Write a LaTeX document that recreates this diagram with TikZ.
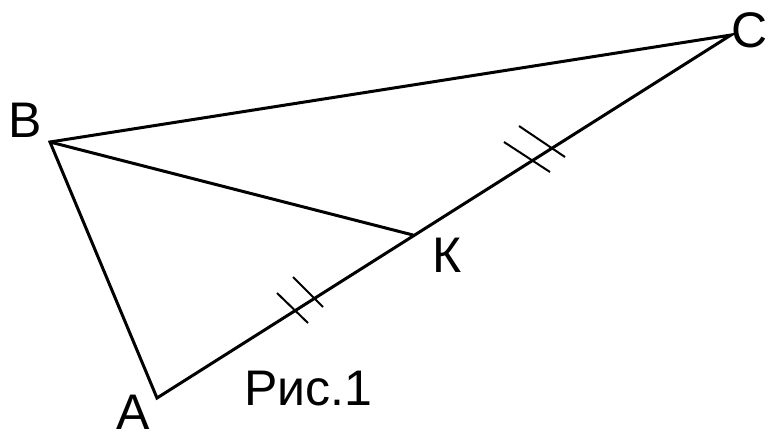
\documentclass[tikz,border=0pt]{standalone}
\usepackage{fontspec}
\setmainfont{Liberation Sans}
\usetikzlibrary{calc}

\begin{document}
\begin{tikzpicture}[
  x=1pt,y=-1pt,
  side/.style={line width=3pt,line cap=round,line join=miter},
  tick/.style={line width=2pt},
  lbl/.style={font=\fontsize{50}{60}\selectfont,inner sep=0pt}
]
  \useasboundingbox (0,0) rectangle (769,440);
  \coordinate (A) at (157,398);
  \coordinate (B) at (50,142);
  \coordinate (C) at (731,35);
  \coordinate (K) at (413,235);
  \draw[side] (A) -- (B) -- (C) -- cycle;
  \draw[side] (B) -- (K);
  % equal parts AK = KC
  \draw[tick] (277,293) -- (308,323);
  \draw[tick] (293,277) -- (323,307);
  \draw[tick] (504,142) -- (550,172);
  \draw[tick] (519,126) -- (565,157);
  \node[lbl] (lA) at (133,412) {A};
  \node[lbl] (lB) at (25,120) {B};
  \node[lbl] (lC) at (750,30) {C};
  \node[lbl] (lK) at (447,255) {К};
  \node[lbl] (cap) at (308,389) {Рис.1};
\end{tikzpicture}
\end{document}
